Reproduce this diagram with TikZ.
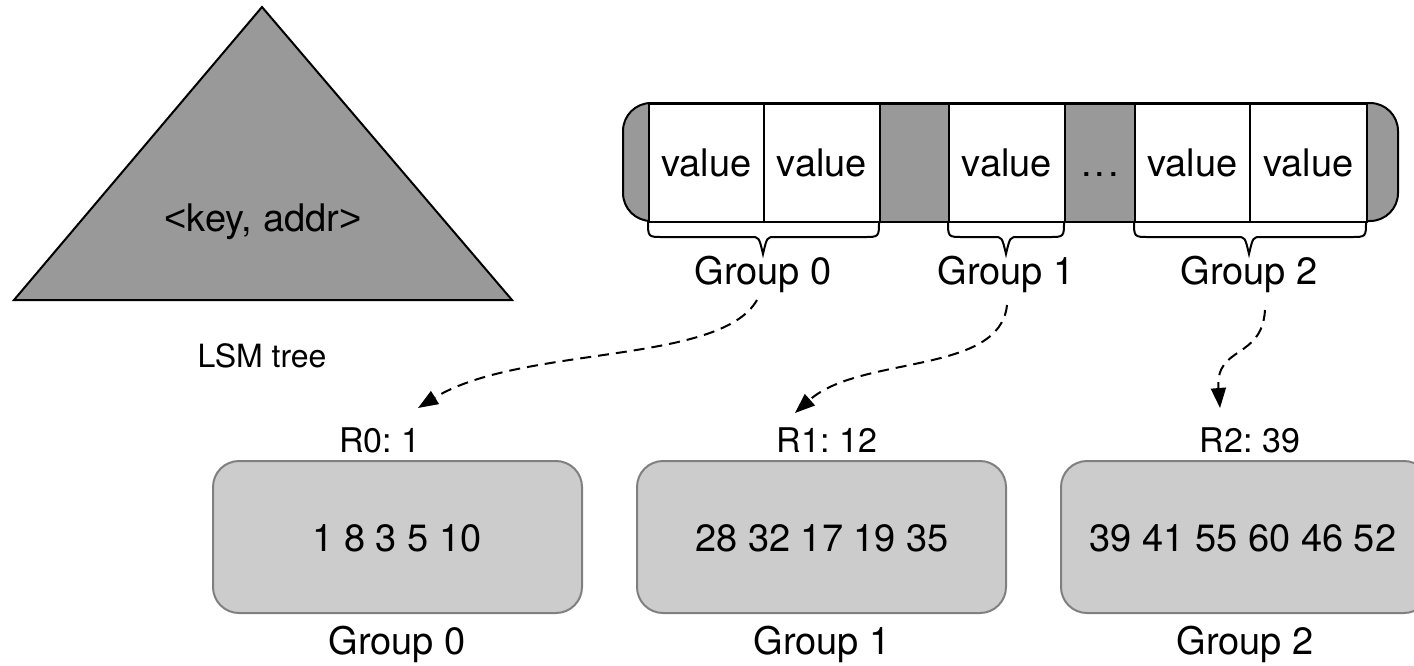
\documentclass[tikz,border=0pt]{standalone}
\usepackage{fontspec}
\setmainfont{TeX Gyre Heros}
\newfontfamily\symfont{Liberation Sans}
\usetikzlibrary{arrows.meta,calc}
\definecolor{darkfill}{HTML}{999999}
\definecolor{boxfill}{HTML}{CCCCCC}
\definecolor{boxline}{HTML}{808080}

% curly brace under a group of cells: left end, tip, right end
\newcommand{\groupbrace}[3]{%
  \path[brace] (#1,221) .. controls (#1,237) .. (#1+15,237) -- (#2-12,237)
    .. controls (#2-4,237) .. (#2,254) .. controls (#2+4,237) .. (#2+12,237)
    -- (#3-15,237) .. controls (#3,237) .. (#3,221);}

\frenchspacing
\begin{document}
\begin{tikzpicture}[x=1pt,y=-1pt,
  lbl/.style={inner sep=0pt, anchor=base, font=\fontsize{38}{44}\selectfont},
  rlbl/.style={inner sep=0pt, anchor=base, font=\fontsize{34}{40}\selectfont},
  treelbl/.style={inner sep=0pt, anchor=base, font=\fontsize{32}{38}\selectfont},
  cell/.style={draw=black, line width=2pt, fill=white, inner sep=0pt,
    text height=27pt, text depth=0pt,
    minimum height=118pt, anchor=north west, font=\fontsize{38}{44}\selectfont},
  gapcell/.style={cell, fill=darkfill},
  groupbox/.style={draw=boxline, line width=2pt, fill=boxfill, rounded corners=26pt},
  brace/.style={draw=black, line width=2pt},
  link/.style={draw=black, line width=2pt, dash pattern=on 11pt off 7pt,
    -{Triangle[length=20pt,width=15pt]}},
]
\useasboundingbox (0,0) rectangle (1414,665);

% LSM tree
\draw[line width=2pt, fill=darkfill, line join=miter] (262,7) -- (512,300) -- (14,300) -- cycle;
\node[lbl] (kv) at (263,231) {{\symfont <}key, addr{\symfont >}};
\node[treelbl] (lsm) at (262,367) {LSM tree};

% value log with rounded end caps
\draw[line width=2pt, fill=darkfill, rounded corners=28pt] (623,103) rectangle (1398,221);
\node[cell, minimum width=115pt] (v1) at (648,103) {value};
\node[cell, minimum width=116pt] (v2) at (763,103) {value};
\node[gapcell, minimum width=69pt] (gap1) at (879,103) {};
\node[cell, minimum width=116pt] (v3) at (948,103) {value};
\node[gapcell, minimum width=70pt] (gap2) at (1064,103) {.\kern3pt.\kern3pt.};
\node[cell, minimum width=115pt] (v4) at (1134,103) {value};
\node[cell, minimum width=117pt] (v5) at (1249,103) {value};

% group braces
\groupbrace{648}{763}{879}
\groupbrace{948}{1006}{1064}
\groupbrace{1134}{1249}{1366}

\node[lbl] (gt0) at (763,284) {Group 0};
\node[lbl] (gt1) at (1006,284) {Group 1};
\node[lbl] (gt2) at (1249,284) {Group 2};

% group records
\node[rlbl] (r0) at (380,452) {R0: 1};
\node[rlbl] (r1) at (827,452) {R1: 12};
\node[rlbl] (r2) at (1250,452) {R2: 39};

\draw[groupbox] (213,461) rectangle (582,613);
\draw[groupbox] (637,461) rectangle (1006,613);
\draw[groupbox] (1061,461) rectangle (1430,613);
\node[lbl] (n0) at (397,551) {1 8 3 5 10};
\node[lbl] (n1) at (822,551) {28 32 17 19 35};
\node[lbl] (n2) at (1243,551) {39 41 55 60 46 52};

\node[lbl] (gb0) at (397,654) {Group 0};
\node[lbl] (gb1) at (822,654) {Group 1};
\node[lbl] (gb2) at (1245,654) {Group 2};

% links from groups to their records
\draw[link] ($(gt0.base)+(-6,16)$) .. controls (720,365) and (520,345) .. ($(r0.base)+(38,-44)$);
\draw[link] ($(gt1.base)+(1,21)$) .. controls (1000,375) and (860,355) .. ($(r1.base)+(-32,-39)$);
\draw[link] ($(gt2.base)+(16,26)$) .. controls (1262,360) and (1215,345) .. ($(r2.base)+(-30,-44)$);
\end{tikzpicture}
\end{document}
